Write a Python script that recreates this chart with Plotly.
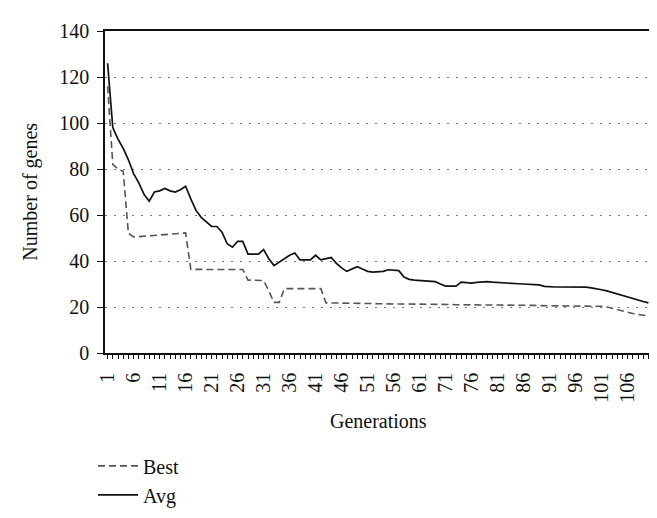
import plotly.graph_objects as go

# generation labels (the source chart skips from 65 to 71)
generations = [str(g) for g in list(range(1, 66)) + list(range(71, 111))]

best = [
    116, 82, 80, 79, 52, 50.5, 50.6, 50.8, 51, 51.2,
    51.4, 51.5, 51.7, 51.8, 52, 52.2, 36.4, 36.3, 36.3, 36.3,
    36.3, 36.3, 36.3, 36.3, 36.3, 36.3, 36.3, 31.7, 31.6, 31.5,
    31.5, 27, 22, 22, 28, 28, 28, 28, 28, 28,
    28, 28, 21.8, 21.8, 21.7, 21.7, 21.7, 21.6, 21.6, 21.6,
    21.5, 21.5, 21.4, 21.4, 21.4, 21.3, 21.3, 21.3, 21.3,
    21.2, 21.2, 21.2, 21.2, 21.1, 21.1, 21.1, 21.1, 21.0, 21.0,
    21.0, 21.0, 20.9, 20.9, 20.9, 20.9, 20.8, 20.8, 20.8, 20.8,
    20.7, 20.7, 20.7, 20.7, 20.6, 20.6, 20.6, 20.6, 20.5, 20.5,
    20.5, 20.5, 20.4, 20.4, 20.4, 20.3, 20.3, 20.0, 19.4, 18.8,
    18.2, 17.7, 17.2, 16.8, 16.4, 16.1,
]

avg = [
    126, 98, 93, 89, 84, 78, 74, 69, 66, 70,
    70.5, 71.5, 70.5, 70, 71, 72.5, 67, 62, 59, 57,
    55, 55, 52.5, 47.5, 46, 48.5, 48.5, 43, 43, 43,
    45, 41, 38, 39.5, 41, 42.5, 43.5, 40.5, 40.5, 40.5,
    42.5, 40.5, 41, 41.5, 39, 37, 35.5, 36.5, 37.5, 36.5,
    35.5, 35.2, 35.2, 35.5, 36.2, 36, 35.8, 33, 32,
    31.7, 31.5, 31.2, 31, 31, 30, 29.1, 29.1, 29.1, 30.8,
    30.6, 30.4, 30.7, 31, 31, 30.8, 30.6, 30.5, 30.3, 30.2,
    30.1, 30, 29.9, 29.8, 29.6, 29, 28.7, 28.7, 28.7, 28.7,
    28.7, 28.7, 28.7, 28.6, 28.3, 28, 27.5, 27, 26.3, 25.7,
    25, 24.3, 23.7, 23, 22.4, 21.8,
]

y_ticks = [0, 20, 40, 60, 80, 100, 120, 140]

FONT = "Liberation Serif"

fig = go.Figure()
fig.add_trace(go.Scatter(
    x=generations, y=best, name="Best", mode="lines",
    line=dict(color="#555555", width=1.6, dash="7px,4px"),
))
fig.add_trace(go.Scatter(
    x=generations, y=avg, name="Avg", mode="lines",
    line=dict(color="#111111", width=1.7),
))

tick_text = [g if i % 5 == 0 else "" for i, g in enumerate(generations)]

fig.update_layout(
    width=657, height=518,
    margin=dict(l=97, r=14, t=23, b=161),
    paper_bgcolor="white", plot_bgcolor="white",
    font=dict(family=FONT, size=20, color="#111111"),
    showlegend=True,
    legend=dict(
        x=-0.022, y=-0.29, xanchor="left", yanchor="top",
        orientation="v", font=dict(size=20),
        bgcolor="rgba(0,0,0,0)", tracegroupgap=0, itemwidth=40,
    ),
    xaxis=dict(
        type="category", range=[-0.5, len(generations) - 0.5],
        tickmode="array", tickvals=generations, ticktext=tick_text,
        tickangle=-90, ticks="outside", ticklen=4, tickwidth=1,
        tickcolor="#111111", showline=True, linecolor="#111111",
        linewidth=1.5, mirror=True, showgrid=False, zeroline=False,
        tickfont=dict(size=20), automargin=False, ticklabelstandoff=6,
    ),
    yaxis=dict(
        range=[0, 140], tickvals=y_ticks, ticks="outside", ticklen=6,
        tickcolor="#111111", showline=True, linecolor="#111111",
        linewidth=1.5, showgrid=True, gridcolor="#777777",
        griddash="2px,7px", gridwidth=1.2, zeroline=False,
        tickfont=dict(size=20), automargin=False, ticklabelstandoff=4,
    ),
    annotations=[
        dict(text="Generations", x=0.5, y=-0.212, xref="paper", yref="paper",
             showarrow=False, xanchor="center", yanchor="middle",
             font=dict(size=20)),
        dict(text="Number of genes", x=-0.138, y=0.5, xref="paper",
             yref="paper", showarrow=False, textangle=-90,
             xanchor="center", yanchor="middle", font=dict(size=20)),
    ],
)

fig.write_html("out.html")
